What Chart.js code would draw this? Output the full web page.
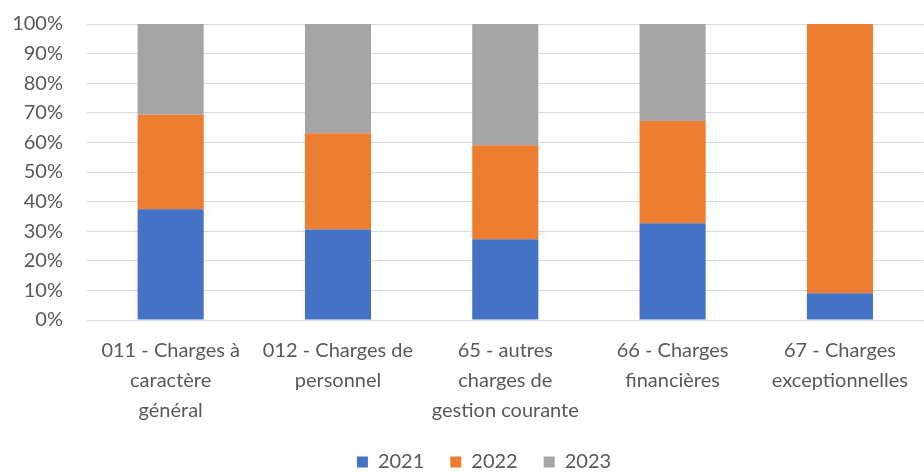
<!DOCTYPE html>
<html>
<head>
<meta charset="utf-8">
<script src="https://cdn.jsdelivr.net/npm/chart.js@4.4.1/dist/chart.umd.min.js"></script>
<style>
  html, body { margin: 0; padding: 0; background: #fff; }
  #wrap { width: 924px; height: 472px; }
</style>
</head>
<body>
<div id="wrap"><canvas id="c" width="924" height="472"></canvas></div>
<script>
const categories = [
  ["011 - Charges à", "caractère", "général"],
  ["012 - Charges de", "personnel"],
  ["65 - autres", "charges de", "gestion courante"],
  ["66 - Charges", "financières"],
  ["67 - Charges", "exceptionnelles"]
];
const seriesNames = ["2021", "2022", "2023"];
const values2021 = [37.4, 30.6, 27.3, 32.7, 9.0];
const values2022 = [31.9, 32.5, 31.7, 34.5, 91.0];
const values2023 = [30.7, 36.9, 41.0, 32.8, 0];
const yTicks = [0, 10, 20, 30, 40, 50, 60, 70, 80, 90, 100];

const colors = ["#4472C4", "#ED7D31", "#A5A5A5"];
const FONT = "Lato, 'Open Sans', sans-serif";

const shiftLegend = {
  id: 'shiftLegend',
  afterLayout(chart) {
    if (chart.legend) { chart.legend.left += 22; chart.legend.right += 22; }
  }
};

new Chart(document.getElementById('c'), {
  type: 'bar',
  data: {
    labels: categories,
    datasets: [values2021, values2022, values2023].map((v, i) => ({
      label: seriesNames[i],
      data: v,
      backgroundColor: colors[i],
      borderWidth: 0,
      barPercentage: 0.395,
      categoryPercentage: 1.0
    }))
  },
  plugins: [shiftLegend],
  options: {
    responsive: false,
    animation: false,
    layout: { padding: { top: 0, right: 0, left: 0, bottom: -10 } },
    plugins: {
      legend: {
        position: 'bottom',
        labels: {
          boxWidth: 11, boxHeight: 11, padding: 26,
          color: '#595959',
          font: { family: FONT, size: 20 }
        }
      },
      tooltip: { enabled: false }
    },
    scales: {
      x: {
        stacked: true,
        grid: { display: false, drawTicks: false },
        border: { display: false },
        ticks: {
          color: '#595959',
          font: { family: FONT, size: 20, lineHeight: 1.5 },
          maxRotation: 0, autoSkip: false, padding: 16
        },
        afterFit: s => { s.height = 106; }
      },
      y: {
        stacked: true,
        min: 0, max: 100,
        afterBuildTicks: s => { s.ticks = yTicks.map(v => ({ value: v })); },
        grid: { color: '#D9D9D9', lineWidth: 1, drawTicks: false },
        border: { display: false },
        ticks: {
          color: '#595959',
          font: { family: FONT, size: 20 },
          padding: 24,
          callback: v => v + '%'
        },
        afterFit: s => { s.width = 87; s.paddingTop = 24; s.paddingBottom = 0; }
      }
    }
  }
});
</script>
</body>
</html>
